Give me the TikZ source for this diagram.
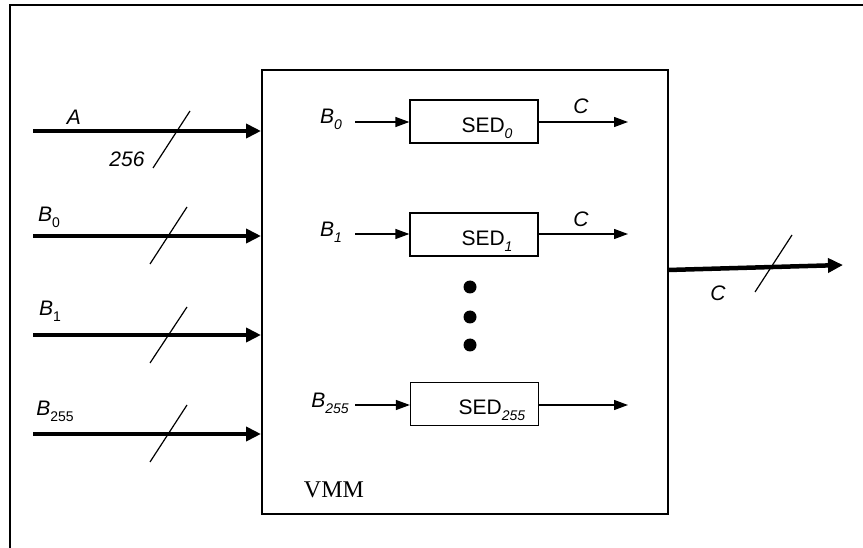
\documentclass[tikz,border=0pt]{standalone}
\usepackage{fontspec}
\setmainfont{Liberation Sans}
\newfontfamily\timesf{Liberation Serif}
\usetikzlibrary{arrows.meta}
\newcommand\sbsc[1]{\raisebox{-0.28em}{\fontsize{14}{14}\selectfont #1}}
\tikzset{
  bus/.style={line width=4.5pt,-{Triangle[length=15pt,width=14pt]}},
  sig/.style={line width=1.3pt,-{Triangle[length=14pt,width=10pt]}},
  slash/.style={line width=1.2pt},
  lbl/.style={inner sep=0pt,font=\fontsize{21}{22}\selectfont},
  sedbox/.style={draw,line width=1.3pt,minimum width=128pt,minimum height=43pt,inner sep=0pt},
  dot/.style={circle,fill,minimum size=13pt,inner sep=0pt},
}
\begin{document}
\begin{tikzpicture}[x=1pt,y=-1pt]
\useasboundingbox (0,0) rectangle (863,548);
% outer frame (only left and top visible)
\draw[line width=2.5pt] (10,548) -- (10,5) -- (863,5);
% VMM box
\node[draw,line width=2pt,minimum width=406pt,minimum height=444pt,inner sep=0pt] (vmm) at (465,292) {};
\node[inner sep=0pt,font=\timesf\fontsize{24}{24}\selectfont] (vmmlbl) at (334,490) {VMM};
% left inputs
\coordinate (ia) at (33,131);
\coordinate (ib0) at (33,236);
\coordinate (ib1) at (33,335);
\coordinate (ib255) at (33,434);
\draw[bus] (ia) -- (ia -| vmm.west);
\draw[bus] (ib0) -- (ib0 -| vmm.west);
\draw[bus] (ib1) -- (ib1 -| vmm.west);
\draw[bus] (ib255) -- (ib255 -| vmm.west);
\node[lbl] (la) at (74,117) {\textit{A}};
\node[lbl] (l256) at (127,159) {\textit{256}};
\node[lbl] (lb0) at (49,217) {\textit{B}\sbsc{0}};
\node[lbl] (lb1) at (50,311) {\textit{B}\sbsc{1}};
\node[lbl] (lb255) at (55,411) {\textit{B}\sbsc{255}};
\draw[slash] (153,168) -- (190,111);
\draw[slash] (150,264) -- (187,207);
\draw[slash] (150,363) -- (187,307);
\draw[slash] (150,462) -- (187,405);
% SED boxes
\node[sedbox] (sed0) at (474,121.5) {};
\node[sedbox] (sed1) at (474,234.5) {};
\node[sedbox] (sed255) at (474.5,404) {};
\node[lbl] (t0) at (487,128) {SED\sbsc{\textit{0}}};
\node[lbl] (t1) at (487,241) {SED\sbsc{\textit{1}}};
\node[lbl] (t255) at (492,410) {SED\sbsc{\textit{255}}};
% SED inputs
\coordinate (s0) at (355,122);
\coordinate (s1) at (355,234);
\coordinate (s255) at (355,405);
\draw[sig] (s0) -- (s0 -| sed0.west);
\draw[sig] (s1) -- (s1 -| sed1.west);
\draw[sig] (s255) -- (s255 -| sed255.west);
\node[lbl] (bi0) at (331,119) {\textit{B}\sbsc{\textit{0}}};
\node[lbl] (bi1) at (331,232) {\textit{B}\sbsc{\textit{1}}};
\node[lbl] (bi255) at (330,403) {\textit{B}\sbsc{\textit{255}}};
% SED outputs
\coordinate (o0) at (628,122);
\coordinate (o1) at (628,234);
\coordinate (o255) at (628,405);
\draw[sig] (sed0.east |- o0) -- (o0);
\draw[sig] (sed1.east |- o1) -- (o1);
\draw[sig] (sed255.east |- o255) -- (o255);
\node[lbl] (c0) at (581,106) {\textit{C}};
\node[lbl] (c1) at (581,219) {\textit{C}};
% dots
\node[dot] (d1) at (470,287) {};
\node[dot] (d2) at (470,317) {};
\node[dot] (d3) at (470,345) {};
% output bus
\coordinate (oo) at (668,270);
\coordinate (oe) at (843,265);
\draw[bus] (oo) -- (oe);
\draw[slash] (755,292) -- (792,235);
\node[lbl] (cout) at (718,293) {\textit{C}};
\end{tikzpicture}
\end{document}
